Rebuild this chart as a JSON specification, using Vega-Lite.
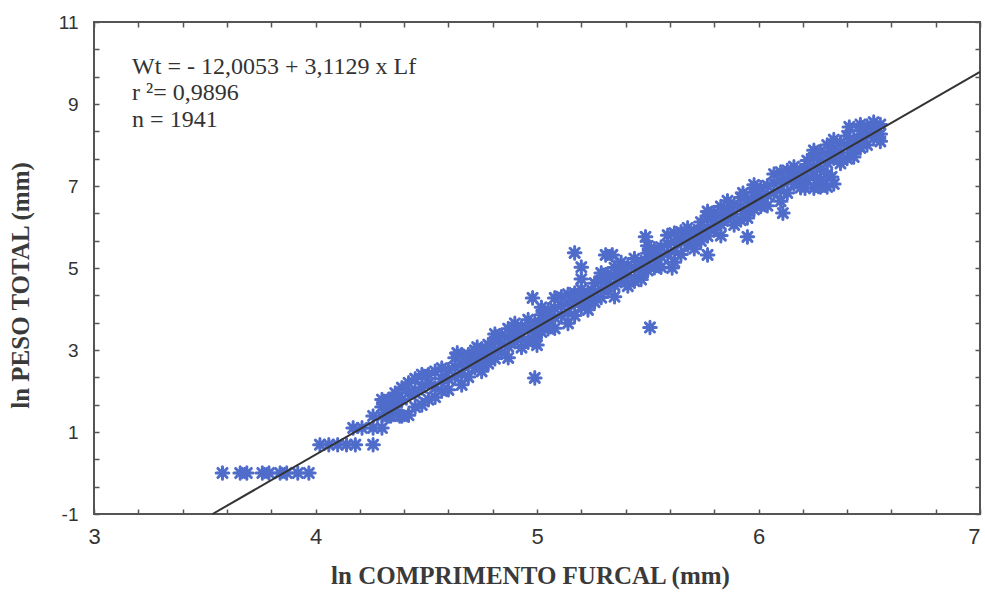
{
  "$schema": "https://vega.github.io/schema/vega-lite/v6.json",
  "width": 886,
  "height": 492,
  "autosize": {"type": "none"},
  "padding": {"left": 94, "top": 22, "right": 5, "bottom": 81},
  "background": "white",
  "config": {
    "view": {"stroke": "#555555", "strokeWidth": 2},
    "axis": {
      "grid": false,
      "domain": false,
      "tickColor": "#555555",
      "tickWidth": 1.5,
      "tickSize": -5,
      "labelFont": "Liberation Sans",
      "labelColor": "#333333",
      "labelFlush": false,
      "labelOverlap": false,
      "labelBound": false,
      "titleFont": "Liberation Serif",
      "titleFontWeight": "bold",
      "titleColor": "#3a3a3a",
      "titleFontSize": 25
    }
  },
  "datasets": {
    "pts": [
      {"lf":3.58,"wt":0},{"lf":3.66,"wt":0},{"lf":3.69,"wt":0},{"lf":3.76,"wt":0},{"lf":3.79,"wt":0},{"lf":3.84,"wt":0},{"lf":3.87,"wt":0},{"lf":3.92,"wt":0},{"lf":3.97,"wt":0},
      {"lf":4.02,"wt":0.69},{"lf":4.06,"wt":0.69},{"lf":4.10,"wt":0.69},{"lf":4.14,"wt":0.69},{"lf":4.18,"wt":0.69},{"lf":4.26,"wt":0.69},
      {"lf":4.17,"wt":1.10},{"lf":4.21,"wt":1.10},{"lf":4.26,"wt":1.10},{"lf":4.30,"wt":1.10},
      {"lf":4.26,"wt":1.39},{"lf":4.30,"wt":1.39},{"lf":4.34,"wt":1.39},{"lf":4.38,"wt":1.39},
      {"lf":4.30,"wt":1.61},{"lf":4.30,"wt":1.79},
      {"lf":4.33,"wt":1.39},{"lf":4.33,"wt":1.61},{"lf":4.33,"wt":1.79},
      {"lf":4.36,"wt":1.61},{"lf":4.36,"wt":1.95},{"lf":4.36,"wt":1.79},
      {"lf":4.39,"wt":1.39},{"lf":4.39,"wt":1.79},{"lf":4.39,"wt":2.08},
      {"lf":4.42,"wt":1.41},{"lf":4.42,"wt":1.95},{"lf":4.42,"wt":2.20},
      {"lf":4.45,"wt":1.61},{"lf":4.45,"wt":1.95},{"lf":4.45,"wt":2.30},
      {"lf":4.48,"wt":1.66},{"lf":4.48,"wt":2.08},{"lf":4.48,"wt":2.40},
      {"lf":4.51,"wt":1.79},{"lf":4.51,"wt":2.20},{"lf":4.51,"wt":2.40},
      {"lf":4.54,"wt":1.85},{"lf":4.54,"wt":2.08},{"lf":4.54,"wt":2.48},
      {"lf":4.57,"wt":2.00},{"lf":4.57,"wt":2.30},{"lf":4.57,"wt":2.56},
      {"lf":4.60,"wt":2.03},{"lf":4.60,"wt":2.29},{"lf":4.60,"wt":2.52},
      {"lf":4.63,"wt":2.36},{"lf":4.63,"wt":2.59},{"lf":4.63,"wt":2.81},
      {"lf":4.64,"wt":2.93},
      {"lf":4.66,"wt":2.15},{"lf":4.66,"wt":2.42},{"lf":4.66,"wt":2.65},{"lf":4.66,"wt":2.86},
      {"lf":4.69,"wt":2.34},{"lf":4.69,"wt":2.67},{"lf":4.69,"wt":2.89},
      {"lf":4.72,"wt":2.57},{"lf":4.72,"wt":2.79},{"lf":4.72,"wt":2.99},
      {"lf":4.73,"wt":3.07},
      {"lf":4.75,"wt":2.48},{"lf":4.75,"wt":2.66},{"lf":4.75,"wt":2.90},
      {"lf":4.78,"wt":2.67},{"lf":4.78,"wt":2.92},{"lf":4.78,"wt":3.13},
      {"lf":4.81,"wt":2.79},{"lf":4.81,"wt":2.99},{"lf":4.81,"wt":3.21},{"lf":4.81,"wt":3.39},
      {"lf":4.84,"wt":2.94},{"lf":4.84,"wt":3.16},{"lf":4.84,"wt":3.36},
      {"lf":4.87,"wt":2.81},{"lf":4.87,"wt":3.08},{"lf":4.87,"wt":3.31},{"lf":4.87,"wt":3.52},
      {"lf":4.90,"wt":3.20},{"lf":4.90,"wt":3.43},{"lf":4.90,"wt":3.65},
      {"lf":4.93,"wt":3.06},{"lf":4.93,"wt":3.32},{"lf":4.93,"wt":3.55},
      {"lf":4.96,"wt":3.19},{"lf":4.96,"wt":3.52},{"lf":4.96,"wt":3.74},
      {"lf":4.99,"wt":3.23},{"lf":4.99,"wt":3.41},{"lf":4.99,"wt":3.65},{"lf":4.99,"wt":2.32},
      {"lf":5.00,"wt":3.12},{"lf":4.98,"wt":4.27},
      {"lf":5.02,"wt":3.44},{"lf":5.02,"wt":3.64},{"lf":5.02,"wt":3.86},{"lf":5.02,"wt":4.04},
      {"lf":5.05,"wt":3.52},{"lf":5.05,"wt":3.77},{"lf":5.05,"wt":3.98},
      {"lf":5.08,"wt":3.53},{"lf":5.08,"wt":3.79},{"lf":5.08,"wt":4.02},{"lf":5.08,"wt":4.27},
      {"lf":5.11,"wt":3.85},{"lf":5.11,"wt":4.08},{"lf":5.11,"wt":4.30},
      {"lf":5.14,"wt":3.65},{"lf":5.14,"wt":3.92},{"lf":5.14,"wt":4.15},{"lf":5.14,"wt":4.36},
      {"lf":5.17,"wt":3.84},{"lf":5.17,"wt":4.17},{"lf":5.17,"wt":4.39},{"lf":5.17,"wt":5.37},
      {"lf":5.20,"wt":4.06},{"lf":5.20,"wt":4.28},{"lf":5.20,"wt":4.48},{"lf":5.20,"wt":4.73},{"lf":5.20,"wt":5.02},
      {"lf":5.23,"wt":3.98},{"lf":5.23,"wt":4.16},{"lf":5.23,"wt":4.40},
      {"lf":5.26,"wt":4.17},{"lf":5.26,"wt":4.42},{"lf":5.26,"wt":4.63},
      {"lf":5.29,"wt":4.28},{"lf":5.29,"wt":4.48},{"lf":5.29,"wt":4.70},{"lf":5.29,"wt":4.88},
      {"lf":5.32,"wt":4.44},{"lf":5.32,"wt":4.66},{"lf":5.32,"wt":4.86},{"lf":5.31,"wt":5.32},{"lf":5.34,"wt":5.32},
      {"lf":5.35,"wt":4.30},{"lf":5.35,"wt":4.57},{"lf":5.35,"wt":4.80},{"lf":5.35,"wt":5.01},
      {"lf":5.38,"wt":4.69},{"lf":5.38,"wt":4.92},{"lf":5.38,"wt":5.14},
      {"lf":5.41,"wt":4.56},{"lf":5.41,"wt":4.82},{"lf":5.41,"wt":5.05},
      {"lf":5.44,"wt":4.68},{"lf":5.44,"wt":5.01},{"lf":5.44,"wt":5.23},
      {"lf":5.47,"wt":4.72},{"lf":5.47,"wt":4.90},{"lf":5.47,"wt":5.14},
      {"lf":5.50,"wt":4.94},{"lf":5.50,"wt":5.14},{"lf":5.50,"wt":5.36},{"lf":5.50,"wt":5.54},
      {"lf":5.51,"wt":3.55},{"lf":5.49,"wt":5.76},
      {"lf":5.53,"wt":5.01},{"lf":5.53,"wt":5.26},{"lf":5.53,"wt":5.47},
      {"lf":5.56,"wt":5.02},{"lf":5.56,"wt":5.28},{"lf":5.56,"wt":5.51},
      {"lf":5.59,"wt":5.35},{"lf":5.59,"wt":5.58},{"lf":5.59,"wt":5.80},
      {"lf":5.62,"wt":5.14},{"lf":5.62,"wt":5.41},{"lf":5.62,"wt":5.64},{"lf":5.62,"wt":5.85},{"lf":5.61,"wt":5.00},
      {"lf":5.65,"wt":5.33},{"lf":5.65,"wt":5.66},{"lf":5.65,"wt":5.88},
      {"lf":5.68,"wt":5.56},{"lf":5.68,"wt":5.78},{"lf":5.68,"wt":5.98},
      {"lf":5.71,"wt":5.47},{"lf":5.71,"wt":5.65},{"lf":5.71,"wt":5.89},
      {"lf":5.74,"wt":5.66},{"lf":5.74,"wt":5.91},{"lf":5.74,"wt":6.12},
      {"lf":5.77,"wt":5.78},{"lf":5.77,"wt":5.98},{"lf":5.77,"wt":6.20},{"lf":5.77,"wt":6.38},{"lf":5.77,"wt":5.32},
      {"lf":5.80,"wt":5.93},{"lf":5.80,"wt":6.15},{"lf":5.80,"wt":6.35},
      {"lf":5.83,"wt":5.79},{"lf":5.83,"wt":6.06},{"lf":5.83,"wt":6.29},{"lf":5.83,"wt":6.50},
      {"lf":5.86,"wt":6.19},{"lf":5.86,"wt":6.42},{"lf":5.86,"wt":6.64},
      {"lf":5.89,"wt":6.05},{"lf":5.89,"wt":6.31},{"lf":5.89,"wt":6.54},
      {"lf":5.92,"wt":6.17},{"lf":5.92,"wt":6.50},{"lf":5.92,"wt":6.72},{"lf":5.93,"wt":6.83},
      {"lf":5.95,"wt":6.22},{"lf":5.95,"wt":6.40},{"lf":5.95,"wt":6.64},{"lf":5.95,"wt":5.76},
      {"lf":5.98,"wt":6.43},{"lf":5.98,"wt":6.63},{"lf":5.98,"wt":6.85},{"lf":5.98,"wt":7.03},
      {"lf":6.01,"wt":6.50},{"lf":6.01,"wt":6.75},{"lf":6.01,"wt":6.96},
      {"lf":6.04,"wt":6.52},{"lf":6.04,"wt":6.78},{"lf":6.04,"wt":7.01},
      {"lf":6.07,"wt":6.84},{"lf":6.07,"wt":7.07},{"lf":6.07,"wt":7.29},
      {"lf":6.10,"wt":6.63},{"lf":6.10,"wt":6.90},{"lf":6.10,"wt":7.13},{"lf":6.10,"wt":7.34},{"lf":6.11,"wt":6.34},
      {"lf":6.13,"wt":6.83},{"lf":6.13,"wt":7.16},{"lf":6.13,"wt":7.38},
      {"lf":6.16,"wt":7.05},{"lf":6.16,"wt":7.27},{"lf":6.16,"wt":7.47},
      {"lf":6.19,"wt":6.96},{"lf":6.19,"wt":7.14},{"lf":6.19,"wt":7.38},
      {"lf":6.22,"wt":7.16},{"lf":6.22,"wt":7.41},{"lf":6.22,"wt":7.62},{"lf":6.21,"wt":6.95},
      {"lf":6.25,"wt":7.27},{"lf":6.25,"wt":7.47},{"lf":6.25,"wt":7.69},{"lf":6.25,"wt":7.87},{"lf":6.25,"wt":6.95},
      {"lf":6.28,"wt":7.42},{"lf":6.28,"wt":7.64},{"lf":6.28,"wt":7.84},{"lf":6.28,"wt":6.98},{"lf":6.28,"wt":7.15},
      {"lf":6.31,"wt":7.29},{"lf":6.31,"wt":7.56},{"lf":6.31,"wt":7.79},{"lf":6.31,"wt":8.00},{"lf":6.31,"wt":6.98},
      {"lf":6.33,"wt":7.22},{"lf":6.34,"wt":7.05},
      {"lf":6.34,"wt":7.68},{"lf":6.34,"wt":7.91},{"lf":6.34,"wt":8.13},
      {"lf":6.37,"wt":7.55},{"lf":6.37,"wt":7.81},{"lf":6.37,"wt":8.04},
      {"lf":6.40,"wt":7.67},{"lf":6.40,"wt":8.00},{"lf":6.40,"wt":8.22},{"lf":6.41,"wt":8.44},
      {"lf":6.43,"wt":7.71},{"lf":6.43,"wt":7.89},{"lf":6.43,"wt":8.13},
      {"lf":6.46,"wt":7.93},{"lf":6.46,"wt":8.13},{"lf":6.46,"wt":8.35},{"lf":6.46,"wt":8.50},
      {"lf":6.49,"wt":8.00},{"lf":6.49,"wt":8.25},{"lf":6.49,"wt":8.46},
      {"lf":6.52,"wt":8.17},{"lf":6.52,"wt":8.39},{"lf":6.52,"wt":8.56},
      {"lf":6.55,"wt":8.09},{"lf":6.55,"wt":8.27},{"lf":6.55,"wt":8.50}
    ],
    "fit": [
      {"lf": 3.5354, "wt": -1.0},
      {"lf": 7.0, "wt": 9.785}
    ],
    "notes": [
      {"lf": 3.172, "wt": 9.73, "label": "Wt = - 12,0053 + 3,1129 x Lf"},
      {"lf": 3.172, "wt": 9.10, "label": "r ²= 0,9896"},
      {"lf": 3.172, "wt": 8.44, "label": "n = 1941"}
    ]
  },
  "layer": [
    {
      "data": {"name": "pts"},
      "mark": {
        "type": "point",
        "shape": "M-1,0L1,0M0,-1L0,1M-0.72,-0.72L0.72,0.72M-0.72,0.72L0.72,-0.72",
        "filled": false,
        "stroke": "#4f6ccb",
        "strokeWidth": 3,
        "strokeCap": "round",
        "size": 160,
        "opacity": 1
      },
      "encoding": {
        "x": {
          "field": "lf", "type": "quantitative",
          "scale": {"domain": [3, 7], "nice": false, "zero": false},
          "axis": {
            "orient": "bottom",
            "values": [3,3.2,3.4,3.6,3.8,4,4.2,4.4,4.6,4.8,5,5.2,5.4,5.6,5.8,6,6.2,6.4,6.6,6.8,7],
            "labelExpr": "abs(datum.value - round(datum.value)) < 0.01 ? '' + round(datum.value) : ''",
            "labelAlign": {"expr": "datum.value > 6.9 ? 'right' : 'center'"},
            "labelFontSize": 22,
            "labelPadding": 17,
            "title": "ln COMPRIMENTO FURCAL (mm)",
            "titlePadding": 16,
            "titleX": 436
          }
        },
        "y": {
          "field": "wt", "type": "quantitative",
          "scale": {"domain": [-1, 11], "nice": false, "zero": false},
          "axis": {
            "orient": "left",
            "values": [-1,-0.3333,0.3333,1,1.6667,2.3333,3,3.6667,4.3333,5,5.6667,6.3333,7,7.6667,8.3333,9,9.6667,10.3333,11],
            "labelExpr": "abs(datum.value - round(datum.value)) < 0.01 ? '' + round(datum.value) : ''",
            "labelFontSize": 19,
            "labelPadding": 21,
            "title": "ln PESO TOTAL (mm)",
            "titlePadding": 25,
            "titleY": 263
          }
        }
      }
    },
    {
      "data": {"name": "fit"},
      "mark": {"type": "line", "color": "#333333", "strokeWidth": 2},
      "encoding": {
        "x": {
          "field": "lf", "type": "quantitative",
          "axis": {
            "orient": "top",
            "values": [3,3.2,3.4,3.6,3.8,4,4.2,4.4,4.6,4.8,5,5.2,5.4,5.6,5.8,6,6.2,6.4,6.6,6.8,7],
            "labels": false,
            "title": null
          }
        },
        "y": {
          "field": "wt", "type": "quantitative",
          "axis": {
            "orient": "right",
            "values": [-1,-0.3333,0.3333,1,1.6667,2.3333,3,3.6667,4.3333,5,5.6667,6.3333,7,7.6667,8.3333,9,9.6667,10.3333,11],
            "labels": false,
            "title": null
          }
        }
      }
    },
    {
      "data": {"name": "notes"},
      "mark": {
        "type": "text",
        "align": "left",
        "baseline": "alphabetic",
        "font": "Liberation Serif",
        "fontSize": 24,
        "color": "#333333"
      },
      "encoding": {
        "x": {"field": "lf", "type": "quantitative", "axis": null},
        "y": {"field": "wt", "type": "quantitative", "axis": null},
        "text": {"field": "label"}
      }
    }
  ],
  "resolve": {"axis": {"x": "independent", "y": "independent"}}
}
